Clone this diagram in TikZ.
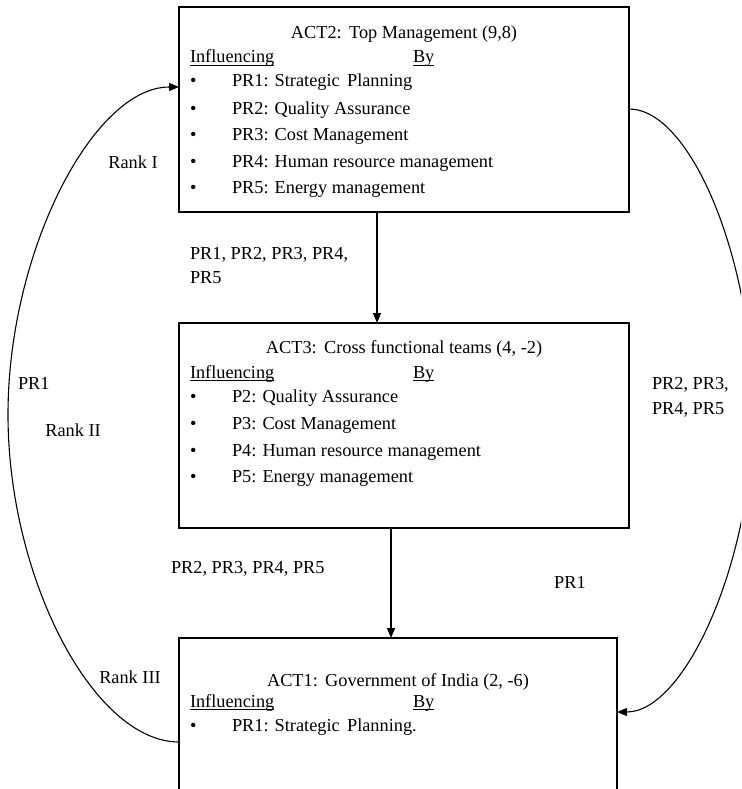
\documentclass[tikz,border=0pt]{standalone}
\usepackage{fontspec}
\setmainfont{Liberation Serif}
\usetikzlibrary{arrows.meta}
\newcommand\ulx[1]{\setbox0\hbox{#1}\rlap{\rule[-2.6pt]{\wd0}{0.9pt}}\box0}
\begin{document}
\begin{tikzpicture}[x=1pt,y=-1pt,
  box/.style={draw, line width=1.3pt, inner sep=0pt, outer sep=0pt},
  txt/.style={font=\fontsize{18.3pt}{22pt}\selectfont, inner sep=0pt, outer sep=0pt},
  arr/.style={line width=1.2pt, -{Triangle[length=10pt,width=8pt]}},
  curve/.style={line width=1.1pt, -{Triangle[length=10pt,width=8pt]}}]
\useasboundingbox (0,0) rectangle (741,789);
\clip (0,0) rectangle (741,789);
% boxes
\node[box, minimum width=450pt, minimum height=205pt] (act2) at (404,109.5) {};
\node[box, minimum width=450pt, minimum height=205pt] (act3) at (404,425.5) {};
\node[box, minimum width=438pt, minimum height=170pt] (act1) at (398,723) {};
% top box text
\node[txt, anchor=base] (h2) at (404,39) {ACT2:\hspace{0.4em}Top Management (9,8)};
\node[txt, anchor=base west] (i2) at (190,63) {\ulx{Influencing}};
\node[txt, anchor=base west] (b2) at (413,63) {\ulx{By}};
\foreach \yy/\tt [count=\k] in {87/{PR1: Strategic\hspace{0.4em}Planning},114/{PR2: Quality Assurance},140/{PR3: Cost Management},167/{PR4: Human resource management},193/{PR5: Energy management}}{
  \node[txt, anchor=base west] (bu2\k) at (190,\yy) {•};
  \node[txt, anchor=base west] (it2\k) at (232,\yy) {\tt};
}
% middle box text
\node[txt, anchor=base] (h3) at (404,353) {ACT3:\hspace{0.4em}Cross functional teams (4, -2)};
\node[txt, anchor=base west] (i3) at (190,378) {\ulx{Influencing}};
\node[txt, anchor=base west] (b3) at (413,378) {\ulx{By}};
\foreach \yy/\tt [count=\k] in {402/{P2: Quality Assurance},429/{P3: Cost Management},456/{P4: Human resource management},482/{P5: Energy management}}{
  \node[txt, anchor=base west] (bu3\k) at (190,\yy) {•};
  \node[txt, anchor=base west] (it3\k) at (232,\yy) {\tt};
}
% bottom box text
\node[txt, anchor=base] (h1) at (398,686) {ACT1:\hspace{0.4em}Government of India (2, -6)};
\node[txt, anchor=base west] (i1) at (190,707) {\ulx{Influencing}};
\node[txt, anchor=base west] (b1) at (413,707) {\ulx{By}};
\node[txt, anchor=base west] (bu11) at (190,731) {•};
\node[txt, anchor=base west] (it11) at (232,731) {PR1: Strategic\hspace{0.4em}Planning.};
% connectors
\coordinate (lmid) at (8,414.5);
\coordinate (rmid) at (753,410.5);
\draw[arr] ([xshift=-27pt]act2.south) -- ([xshift=-27pt]act3.north);
\draw[arr] ([xshift=-13pt]act3.south) -- ([xshift=-7pt]act1.north);
\draw[curve] ([yshift=-104pt]act1.north west) .. controls (93.5,742) and (8,578) .. (lmid)
  .. controls (8,251) and (93.5,87) .. ([yshift=-80pt]act2.north west);
\draw[curve] ([yshift=-102pt]act2.north east) .. controls (691,109) and (753,260) .. (rmid)
  .. controls (753,561) and (685,712) .. ([yshift=-74pt]act1.north east);
% labels
\node[txt, anchor=base] (rank1) at (133,168) {Rank I};
\node[txt, anchor=base west] (l1a) at (190,259) {PR1, PR2, PR3, PR4,};
\node[txt, anchor=base west] (l1b) at (190,283) {PR5};
\node[txt, anchor=base west] (l2) at (18,389) {PR1};
\node[txt, anchor=base] (rank2) at (73,436) {Rank II};
\node[txt, anchor=base west] (l3a) at (652,389) {PR2, PR3,};
\node[txt, anchor=base west] (l3b) at (652,414) {PR4, PR5};
\node[txt, anchor=base west] (l4) at (171,573) {PR2, PR3, PR4, PR5};
\node[txt, anchor=base] (l5) at (570,588) {PR1};
\node[txt, anchor=base] (rank3) at (130,683) {Rank III};
\end{tikzpicture}
\end{document}
